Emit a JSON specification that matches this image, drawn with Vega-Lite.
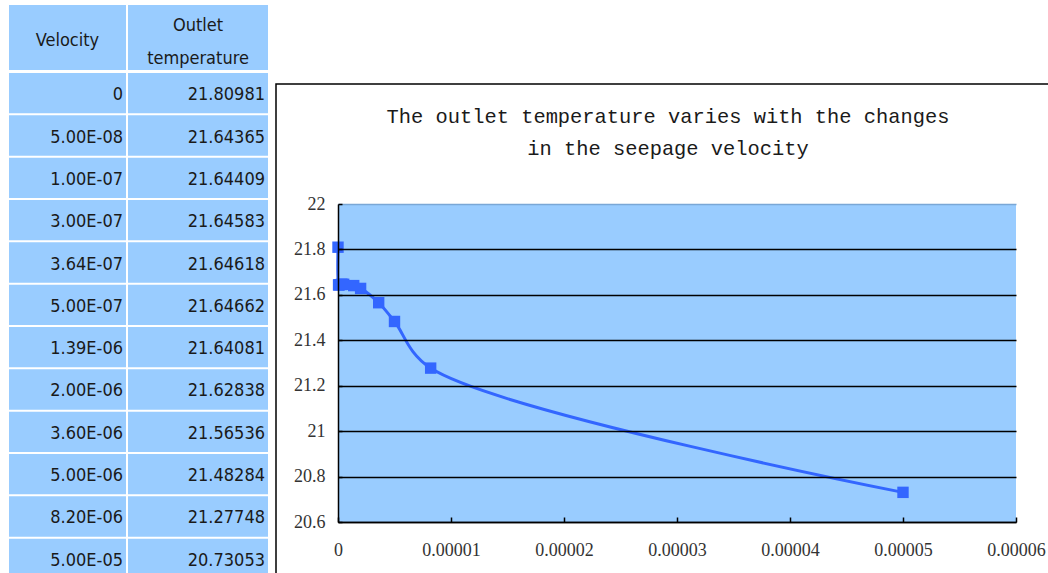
{
  "$schema": "https://vega.github.io/schema/vega-lite/v6.json",
  "padding": {"left": 9, "top": 5, "right": 0, "bottom": 0},
  "background": "white",
  "config": {"view": {"stroke": null}},
  "datasets": {
    "rows": [
      {"velocity": 0, "temp": 21.80981, "vlabel": "0", "tlabel": "21.80981"},
      {"velocity": 5e-8, "temp": 21.64365, "vlabel": "5.00E-08", "tlabel": "21.64365"},
      {"velocity": 1e-7, "temp": 21.64409, "vlabel": "1.00E-07", "tlabel": "21.64409"},
      {"velocity": 3e-7, "temp": 21.64583, "vlabel": "3.00E-07", "tlabel": "21.64583"},
      {"velocity": 3.64e-7, "temp": 21.64618, "vlabel": "3.64E-07", "tlabel": "21.64618"},
      {"velocity": 5e-7, "temp": 21.64662, "vlabel": "5.00E-07", "tlabel": "21.64662"},
      {"velocity": 1.39e-6, "temp": 21.64081, "vlabel": "1.39E-06", "tlabel": "21.64081"},
      {"velocity": 2e-6, "temp": 21.62838, "vlabel": "2.00E-06", "tlabel": "21.62838"},
      {"velocity": 3.6e-6, "temp": 21.56536, "vlabel": "3.60E-06", "tlabel": "21.56536"},
      {"velocity": 5e-6, "temp": 21.48284, "vlabel": "5.00E-06", "tlabel": "21.48284"},
      {"velocity": 8.2e-6, "temp": 21.27748, "vlabel": "8.20E-06", "tlabel": "21.27748"},
      {"velocity": 5e-5, "temp": 20.73053, "vlabel": "5.00E-05", "tlabel": "20.73053"}
    ]
  },
  "spacing": 7,
  "hconcat": [
    {
      "spacing": 2,
      "hconcat": [
        {
          "spacing": 2,
          "vconcat": [
            {
              "data": {"values": [{"h": "Velocity"}]},
              "width": 117,
              "height": 65,
              "view": {"fill": "#99CCFF", "stroke": null},
              "mark": {"type": "text", "font": "Liberation Sans Narrow, DejaVu Sans Condensed", "fontSize": 18, "baseline": "middle", "dy": 3, "color": "#1a1a1a"},
              "encoding": {"text": {"field": "h"}}
            },
            {
              "data": {"name": "rows"},
              "width": 117,
              "height": 506,
              "encoding": {
                "y": {"field": "vlabel", "type": "ordinal", "sort": null, "axis": null, "scale": {"paddingInner": 0.047, "paddingOuter": 0}}
              },
              "layer": [
                {"mark": {"type": "rect", "color": "#99CCFF"}},
                {
                  "mark": {"type": "text", "align": "right", "baseline": "middle", "dx": -3, "dy": 2, "font": "Liberation Sans Narrow, DejaVu Sans Condensed", "fontSize": 18, "color": "#1a1a1a"},
                  "encoding": {"x": {"value": "width"}, "text": {"field": "vlabel"}}
                }
              ]
            }
          ]
        },
        {
          "spacing": 2,
          "vconcat": [
            {
              "data": {"values": [{"h": "Outlet\ntemperature"}]},
              "width": 140,
              "height": 65,
              "view": {"fill": "#99CCFF", "stroke": null},
              "mark": {"type": "text", "font": "Liberation Sans Narrow, DejaVu Sans Condensed", "fontSize": 18, "baseline": "middle", "dy": -12, "lineBreak": "\n", "lineHeight": 33, "color": "#1a1a1a"},
              "encoding": {"text": {"field": "h"}}
            },
            {
              "data": {"name": "rows"},
              "width": 140,
              "height": 506,
              "encoding": {
                "y": {"field": "vlabel", "type": "ordinal", "sort": null, "axis": null, "scale": {"paddingInner": 0.047, "paddingOuter": 0}}
              },
              "layer": [
                {"mark": {"type": "rect", "color": "#99CCFF"}},
                {
                  "mark": {"type": "text", "align": "right", "baseline": "middle", "dx": -3, "dy": 2, "font": "Liberation Sans Narrow, DejaVu Sans Condensed", "fontSize": 18, "color": "#1a1a1a"},
                  "encoding": {"x": {"value": "width"}, "text": {"field": "tlabel"}}
                }
              ]
            }
          ]
        }
      ]
    },
    {
      "spacing": 0,
      "vconcat": [
        {
          "data": {"values": []},
          "width": 10,
          "height": 78,
          "view": {"stroke": null},
          "mark": "point"
        },
        {
          "width": 774,
          "height": 491,
          "view": {"stroke": "black", "strokeWidth": 1.5},
          "title": {
            "text": ["The outlet temperature varies with the changes", "in the seepage velocity"],
            "font": "Liberation Mono",
            "fontSize": 20.4,
            "fontWeight": "normal",
            "color": "#1a1a1a",
            "lineHeight": 32,
            "anchor": "middle",
            "baseline": "alphabetic",
            "offset": -39,
            "dy": 52,
            "dx": 5
          },
          "layer": [
            {
              "data": {"values": [{"a": 1}]},
              "mark": {"type": "rect", "fill": "#99CCFF", "opacity": 1},
              "encoding": {
                "x": {
                  "datum": 0,
                  "type": "quantitative",
                  "scale": {"domain": [0, 0.00006], "range": [62, 740], "nice": false},
                  "axis": {
                    "title": null, "tickCount": 6, "format": ".5~f", "grid": false,
                    "domainColor": "black", "domainWidth": 1.5,
                    "tickColor": "black", "tickSize": -5, "tickWidth": 1.5,
                    "labelFont": "Liberation Serif", "labelFontSize": 18, "labelColor": "#333333",
                    "labelPadding": 24, "labelBaseline": "top", "labelFlush": false, "labelOverlap": false,
                    "offset": -53, "zindex": 1
                  }
                },
                "x2": {"datum": 0.00006},
                "y": {
                  "datum": 20.6,
                  "type": "quantitative",
                  "scale": {"domain": [20.6, 22], "range": [438, 120], "nice": false, "zero": false},
                  "axis": {
                    "title": null, "tickCount": 8, "format": ".1~f", "grid": true,
                    "gridColor": {"condition": {"test": "datum.value >= 21.99", "value": "#7AA7D6"}, "value": "black"},
                    "gridWidth": 1.5,
                    "domainColor": "black", "domainWidth": 1.5,
                    "tickColor": "black", "tickSize": -4, "tickWidth": 1.5,
                    "labelFont": "Liberation Serif", "labelFontSize": 18, "labelColor": "#333333",
                    "labelPadding": 17, "labelFlush": false, "labelOverlap": false,
                    "offset": -62, "zindex": 1
                  }
                },
                "y2": {"datum": 22}
              }
            },
            {
              "data": {"name": "rows"},
              "mark": {"type": "line", "interpolate": "catmull-rom", "color": "#3366FF", "strokeWidth": 3},
              "encoding": {
                "x": {"field": "velocity", "type": "quantitative", "scale": {"domain": [0, 0.00006], "range": [62, 740], "nice": false}},
                "y": {"field": "temp", "type": "quantitative", "scale": {"domain": [20.6, 22], "range": [438, 120], "nice": false, "zero": false}}
              }
            },
            {
              "data": {"name": "rows"},
              "mark": {"type": "point", "shape": "square", "filled": true, "size": 130, "color": "#3366FF", "opacity": 1},
              "encoding": {
                "x": {"field": "velocity", "type": "quantitative", "scale": {"domain": [0, 0.00006], "range": [62, 740], "nice": false}},
                "y": {"field": "temp", "type": "quantitative", "scale": {"domain": [20.6, 22], "range": [438, 120], "nice": false, "zero": false}}
              }
            }
          ]
        }
      ]
    }
  ]
}
